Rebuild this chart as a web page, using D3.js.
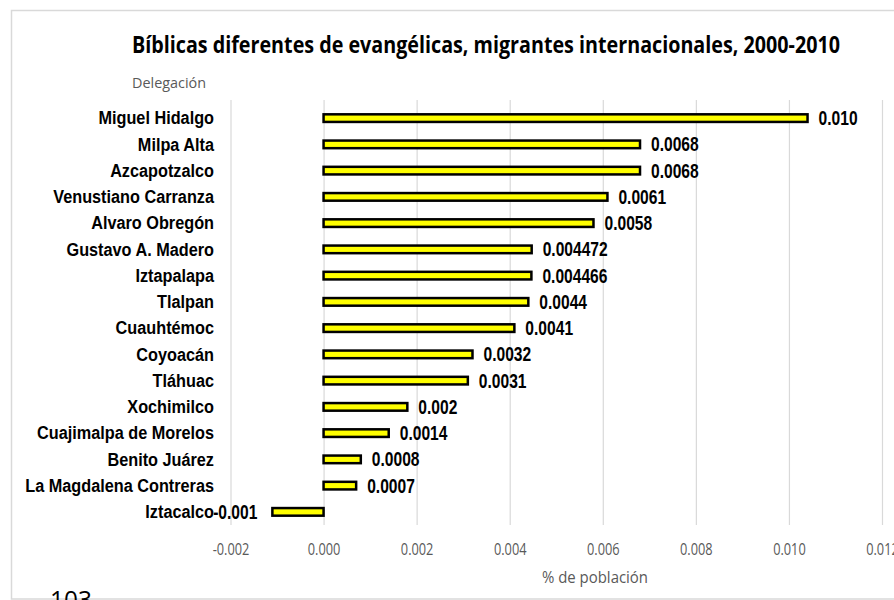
<!DOCTYPE html>
<html>
<head>
<meta charset="utf-8">
<script src="https://cdn.jsdelivr.net/npm/d3@7"></script>
<style>
  html, body { margin: 0; padding: 0; background: #fff; }
  svg { display: block; }
</style>
</head>
<body>
<svg id="chart" width="894" height="600"></svg>
<script>
const categories = ["Miguel Hidalgo","Milpa Alta","Azcapotzalco","Venustiano Carranza","Alvaro Obregón","Gustavo A. Madero","Iztapalapa","Tlalpan","Cuauhtémoc","Coyoacán","Tláhuac","Xochimilco","Cuajimalpa de Morelos","Benito Juárez","La Magdalena Contreras","Iztacalco"];
const values = [0.0104, 0.0068, 0.0068, 0.0061, 0.0058, 0.004472, 0.004466, 0.0044, 0.0041, 0.0032, 0.0031, 0.0018, 0.0014, 0.0008, 0.0007, -0.0011];
const valueLabels = ["0.010","0.0068","0.0068","0.0061","0.0058","0.004472","0.004466","0.0044","0.0041","0.0032","0.0031","0.002","0.0014","0.0008","0.0007","-0.001"];
const tickValues = [-0.002, 0.000, 0.002, 0.004, 0.006, 0.008, 0.010, 0.012];
const tickLabels = ["-0.002","0.000","0.002","0.004","0.006","0.008","0.010","0.012"];
const titleText = "Bíblicas diferentes de evangélicas, migrantes internacionales, 2000-2010";
const yAxisTitle = "Delegación";
const xAxisTitle = "% de población";
const pageNumber = "103";

(function () {
const svg = d3.select("#chart");
const gray = "#595959";
const gridColor = "#d9d9d9";
const plotTop = 100, plotBottom = 525;

const x = d3.scaleLinear().domain([-0.002, 0.012]).range([230.5, 882]);
const y = d3.scaleBand().domain(categories).range([105, 525]).paddingInner(0.71).paddingOuter(0.355);

// chart border
svg.append("rect").attr("x", 11.5).attr("y", 10.5).attr("width", 1000).attr("height", 588.5)
  .attr("fill", "none").attr("stroke", gridColor).attr("stroke-width", 1.5);

// title
svg.append("text").attr("x", 132).attr("y", 53).text(titleText)
  .attr("font-family", "'Open Sans', sans-serif").attr("font-weight", "bold").attr("font-size", 24)
  .attr("fill", "#000").attr("textLength", 708).attr("lengthAdjust", "spacingAndGlyphs");

// axis title (categories)
svg.append("text").attr("x", 132).attr("y", 88).text(yAxisTitle)
  .attr("font-family", "'Open Sans', sans-serif").attr("font-size", 15)
  .attr("fill", gray).attr("textLength", 74).attr("lengthAdjust", "spacingAndGlyphs");

// gridlines + tick labels
const axis = d3.axisBottom(x).tickValues(tickValues).tickSize(-(plotBottom - plotTop))
  .tickFormat((d, i) => tickLabels[i]);
const gx = svg.append("g").attr("transform", `translate(0,${plotBottom})`).call(axis);
gx.select(".domain").remove();
gx.selectAll(".tick line").attr("stroke", gridColor).attr("stroke-width", 1.2);
gx.selectAll(".tick text").attr("y", 30).attr("dy", 0)
  .attr("font-family", "'Open Sans', sans-serif").attr("font-size", 16).attr("fill", gray)
  .attr("transform", "scale(0.8,1)");

// x axis title
svg.append("text").attr("x", 595).attr("y", 583).attr("text-anchor", "middle").text(xAxisTitle)
  .attr("font-family", "'Open Sans', sans-serif").attr("font-size", 16).attr("fill", gray)
  .attr("textLength", 106).attr("lengthAdjust", "spacingAndGlyphs");

const data = categories.map((c, i) => ({ c, v: values[i], label: valueLabels[i] }));

// bars
svg.append("g").selectAll("rect").data(data).join("rect")
  .attr("x", d => x(Math.min(0, d.v)))
  .attr("width", d => Math.abs(x(d.v) - x(0)))
  .attr("y", d => y(d.c))
  .attr("height", y.bandwidth())
  .attr("fill", "#ffff00").attr("stroke", "#000").attr("stroke-width", 2.5);

// category labels
svg.append("g").selectAll("g").data(data).join("g")
  .attr("transform", d => `translate(214,${y(d.c) + y.bandwidth() / 2 + 6.3}) scale(0.93,1)`)
  .append("text").attr("text-anchor", "end").text(d => d.c)
  .attr("font-family", "'Liberation Sans', Arial, sans-serif").attr("font-weight", "bold")
  .attr("font-size", 17.5).attr("fill", "#000");

// data labels
svg.append("g").selectAll("g").data(data).join("g")
  .attr("transform", d => {
    const px = d.v >= 0 ? x(d.v) + 11 : x(d.v) - 15;
    return `translate(${px},${y(d.c) + y.bandwidth() / 2 + 7}) scale(0.78,1)`;
  })
  .append("text").attr("text-anchor", d => d.v >= 0 ? "start" : "end").text(d => d.label)
  .attr("font-family", "'Liberation Sans', Arial, sans-serif").attr("font-weight", "bold")
  .attr("font-size", 20).attr("fill", "#000");

// page number (partially visible)
svg.append("text").attr("x", 50).attr("y", 609).text(pageNumber)
  .attr("font-family", "'Open Sans', sans-serif").attr("font-size", 26).attr("fill", "#000")
  .attr("textLength", 42).attr("lengthAdjust", "spacingAndGlyphs");
})();
</script>
</body>
</html>
